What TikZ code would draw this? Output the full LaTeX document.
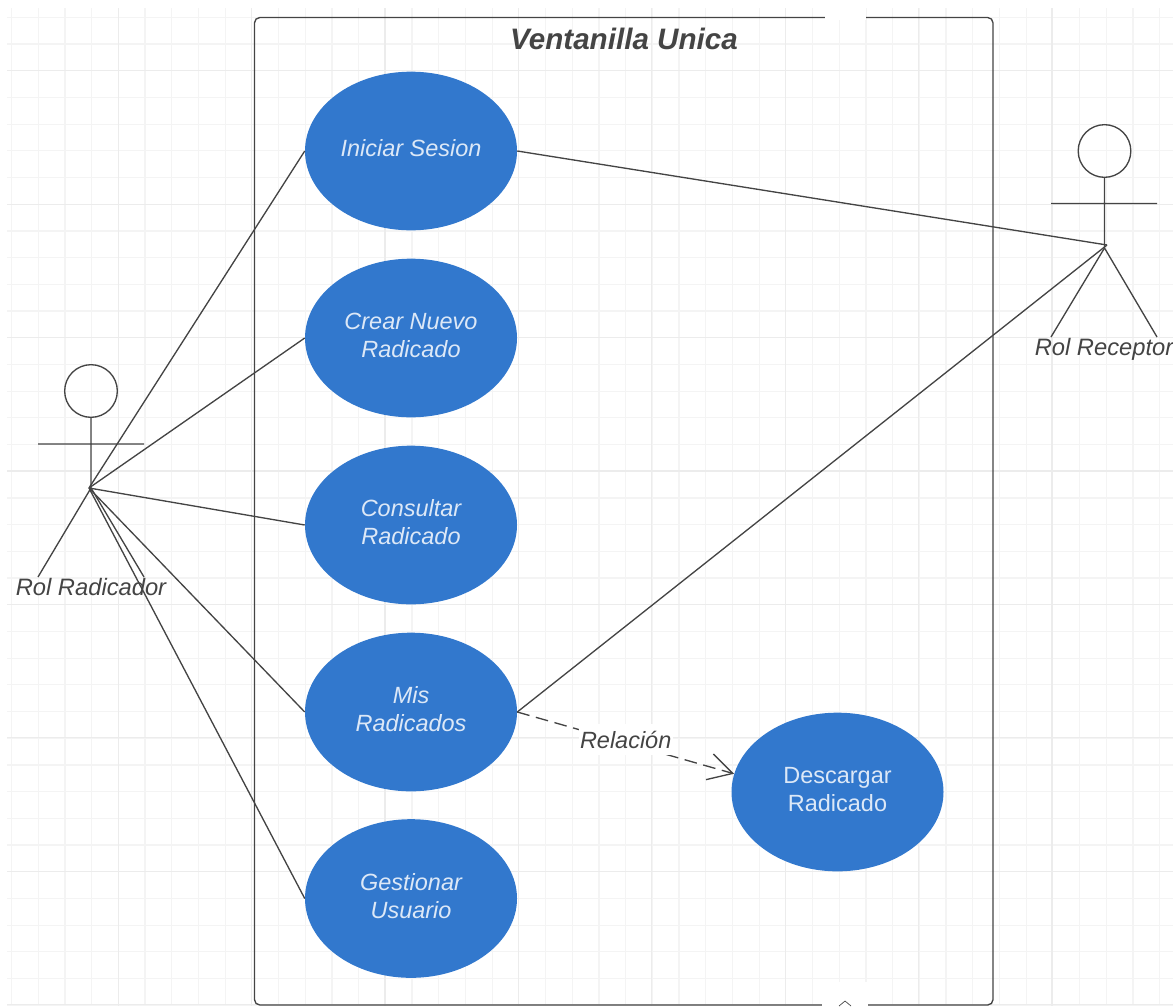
\documentclass[tikz,border=0pt]{standalone}
\usepackage{fontspec}
\setmainfont{Liberation Sans}
\usepackage{tikz}
\usetikzlibrary{arrows.meta,shapes.geometric}

\definecolor{casefill}{HTML}{3278CD}
\definecolor{casetext}{HTML}{DCE8F7}
\definecolor{inkline}{HTML}{444444}
\definecolor{gridminor}{HTML}{F4F4F4}
\definecolor{gridmajor}{HTML}{ECECEC}

\tikzset{
  usecase/.style={ellipse, fill=casefill, text=casetext, minimum width=159pt, minimum height=119pt,
    inner sep=0pt, align=center, text depth=4.5pt, font=\fontsize{17.6}{21}\selectfont\itshape},
  actorlabel/.style={text=inkline, inner sep=0pt, font=\fontsize{17.8}{21}\selectfont\itshape},
  link/.style={draw=inkline, line width=1pt},
  actorline/.style={draw=inkline, line width=1pt},
  gridline/.style={line width=0.9pt}
}

\begin{document}
\begin{tikzpicture}[x=0.75pt,y=-0.75pt]
     \useasboundingbox (0,0) rectangle (1173,1006);

     % grid
     \foreach \gx in {11.5,38.2,...,1173}
       \draw[gridminor,gridline] (\gx,8) -- (\gx,1006);
     \foreach \gy in {17.3,44,...,1006}
       \draw[gridminor,gridline] (7,\gy) -- (1173,\gy);
     \foreach \gx in {118.2,251.6,...,1173}
       \draw[gridmajor,gridline] (\gx,8) -- (\gx,1006);
     \foreach \gy in {70.7,204.1,...,1006}
       \draw[gridmajor,gridline] (7,\gy) -- (1173,\gy);

     % frame
     \draw[draw=inkline,line width=1pt,rounded corners=4pt] (254.5,17.5) rectangle (993,1005);
     \fill[white] (825,0) rectangle (866,20);
     \fill[white] (822,982) rectangle (868,1006);
     \draw[draw=inkline,line width=0.5pt] (839,1006) -- (845,1001) -- (851,1006);
     \node[text=inkline, inner sep=0pt, font=\fontsize{22.2}{26}\selectfont\bfseries\itshape] (titulo) at (624,39) {Ventanilla Unica};

     % use cases
     \node[usecase] (iniciar)    at (411,151)   {Iniciar Sesion};
     \node[usecase] (crear)      at (411,338)   {Crear Nuevo\\Radicado};
     \node[usecase] (consultar)  at (411,525)   {Consultar\\Radicado};
     \node[usecase] (misrad)     at (411,712)   {Mis\\Radicados};
     \node[usecase] (gestionar)  at (411,898.5) {Gestionar\\Usuario};
     \node[usecase, font=\fontsize{17.6}{21}\selectfont] (descargar) at (837.5,792) {Descargar\\Radicado};

     % actors
     \node[circle, draw=inkline, line width=1pt, minimum size=39.5pt, inner sep=0pt] (headrad) at (91,391) {};
     \coordinate (hiprad) at (91,488);
     \coordinate (handrad) at (89,488);
     \draw[actorline] (headrad.south) -- (hiprad) (38,444) -- (144,444) (hiprad) -- (38,577) (hiprad) -- (144,577);
     \node[actorlabel] (labelrad) at (91,587) {Rol Radicador};

     \node[circle, draw=inkline, line width=1pt, minimum size=39.5pt, inner sep=0pt] (headrec) at (1104.5,151) {};
     \coordinate (hiprec) at (1104.5,248);
     \coordinate (handrec) at (1107,245);
     \draw[actorline] (headrec.south) -- (hiprec) (1051,203.5) -- (1157,203.5) (hiprec) -- (1051,337) (hiprec) -- (1157,337);
     \node[actorlabel] (labelrec) at (1104,349) {Rol Receptor};

     % links
     \path[link] (handrad) edge (iniciar.west)
                 (handrad) edge (crear.west)
                 (handrad) edge (consultar.west)
                 (handrad) edge (misrad.west)
                 (handrad) edge (gestionar.west)
                 (iniciar.east) edge (handrec)
                 (misrad.east)  edge (handrec);
     \draw[link, dash pattern=on 9.5pt off 5pt, -{Straight Barb[length=18pt,width=20pt]}] (misrad.east) -- (descargar.170)
        node[pos=0.5, yshift=2.5pt, fill=white, text=inkline, inner xsep=1pt, inner ysep=5pt, font=\fontsize{17.6}{21}\selectfont\itshape] (relacion) {Relación};
\end{tikzpicture}
\end{document}
